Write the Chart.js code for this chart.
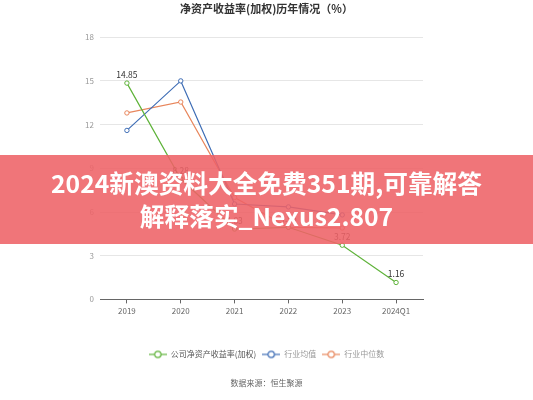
<!DOCTYPE html>
<html>
<head>
<meta charset="utf-8">
<script src="https://cdn.jsdelivr.net/npm/chart.js@4.4.1/dist/chart.umd.min.js"></script>
<style>
    html, body { margin: 0; padding: 0; background: #fff; }
    #wrap { position: relative; width: 533px; height: 400px; overflow: hidden; }
    #banner {
        position: absolute; left: 0; top: 155px; width: 533px; height: 89px;
        background: rgba(238, 98, 102, 0.88);
        color: #fff; text-align: center;
        font-family: "Noto Sans CJK SC", "Noto Sans", sans-serif;
        font-weight: bold; font-size: 24.7px; line-height: 33px;
        padding-top: 11px; box-sizing: border-box;
    }
</style>
</head>
<body>
<div id="wrap">
    <canvas id="roeChart" width="533" height="400"></canvas>
    <div id="banner">2024新澳资料大全免费351期,可靠解答<br>解释落实_Nexus2.807</div>
</div>
<script>
const FONT = '"Noto Sans CJK SC", "Noto Sans", sans-serif';

// --- Data ---
const categories = ['2019', '2020', '2021', '2022', '2023', '2024Q1'];
const companyRoe = [14.85, 8.28, 4.83, 4.95, 3.72, 1.16];
const industryMean = [11.6, 15.0, 6.55, 6.35, 5.8, null];
const industryMedian = [12.8, 13.55, 7.0, 4.95, 4.9, null];
const yTicks = [0, 3, 6, 9, 12, 15, 18];

const GREEN = '#5fb33a';
const BLUE = '#3e6db5';
const ORANGE = '#e8865c';

// legend marker: short line with a hollow circle
function legendMarker(color) {
    const c = document.createElement('canvas');
    c.width = 18; c.height = 10;
    const g = c.getContext('2d');
    g.strokeStyle = color;
    g.lineWidth = 1.2;
    g.beginPath(); g.moveTo(0, 5); g.lineTo(18, 5); g.stroke();
    g.fillStyle = '#fff';
    g.beginPath(); g.arc(9, 5, 3.2, 0, Math.PI * 2); g.fill(); g.stroke();
    return c;
}

// value labels above the company series
const valueLabels = {
    id: 'valueLabels',
    afterDatasetsDraw(chart) {
        const meta = chart.getDatasetMeta(0);
        const ctx = chart.ctx;
        ctx.save();
        ctx.font = '8.5px ' + FONT;
        ctx.fillStyle = '#333';
        ctx.textAlign = 'center';
        ctx.textBaseline = 'bottom';
        meta.data.forEach((pt, i) => {
            ctx.fillText(companyRoe[i].toFixed(2), pt.x, pt.y - 4);
        });
        ctx.restore();
    }
};

function lineSet(label, data, color) {
    return {
        label: label,
        data: data,
        borderColor: color,
        backgroundColor: '#fff',
        borderWidth: 1.2,
        pointRadius: 2.2,
        pointBorderWidth: 1,
        pointBackgroundColor: '#fff',
        pointBorderColor: color,
        tension: 0,
        spanGaps: false
    };
}

const ctx = document.getElementById('roeChart').getContext('2d');
const roeChart = new Chart(ctx, {
    type: 'line',
    data: {
        labels: categories,
        datasets: [
            lineSet('公司净资产收益率(加权)', companyRoe, GREEN),
            lineSet('行业均值', industryMean, BLUE),
            lineSet('行业中位数', industryMedian, ORANGE)
        ]
    },
    options: {
        responsive: false,
        animation: false,
        devicePixelRatio: 1,
        layout: { padding: { top: 2, right: 0, bottom: 8, left: 0 } },
        plugins: {
            title: {
                display: true,
                text: '净资产收益率(加权)历年情况（%）',
                color: '#333',
                font: { family: FONT, size: 11, weight: 'bold' },
                padding: { top: 0, bottom: 22 }
            },
            subtitle: {
                display: true,
                position: 'bottom',
                text: '数据来源：恒生聚源',
                color: '#666',
                font: { family: FONT, size: 8 },
                padding: { top: 10, bottom: 4 }
            },
            legend: {
                position: 'bottom',
                labels: {
                    font: { family: FONT, size: 8 },
                    usePointStyle: true,
                    pointStyleWidth: 18,
                    boxHeight: 8,
                    padding: 6,
                    generateLabels(chart) {
                        const colors = [GREEN, BLUE, ORANGE];
                        const txt = ['#555', '#999', '#999'];
                        return chart.data.datasets.map((ds, i) => ({
                            text: ds.label,
                            pointStyle: legendMarker(colors[i]),
                            fontColor: txt[i],
                            strokeStyle: colors[i],
                            fillStyle: '#fff',
                            hidden: !chart.isDatasetVisible(i),
                            datasetIndex: i
                        }));
                    }
                }
            },
            tooltip: { enabled: false }
        },
        scales: {
            x: {
                offset: true,
                grid: { offset: false, drawOnChartArea: false, drawTicks: true, tickLength: 4, color: '#666' },
                border: { color: '#666' },
                ticks: { color: '#666', font: { family: FONT, size: 8 }, padding: 3 },
                afterFit(scale) { scale.height = 45; }
            },
            y: {
                min: 0,
                max: 18,
                afterBuildTicks(scale) { scale.ticks = yTicks.map(v => ({ value: v })); },
                grid: { color: '#e6e6e6', drawTicks: false },
                border: { display: false },
                ticks: { color: '#999', font: { family: FONT, size: 8 }, padding: 6 },
                afterFit(scale) { scale.width = 100; }
            },
            // empty right-hand spacer so the plot ends where the reference does
            spacer: {
                type: 'linear',
                position: 'right',
                display: true,
                grid: { display: false, drawTicks: false },
                border: { display: false },
                ticks: { display: false },
                afterFit(scale) { scale.width = 110; }
            }
        }
    },
    plugins: [valueLabels]
});
</script>
</body>
</html>
